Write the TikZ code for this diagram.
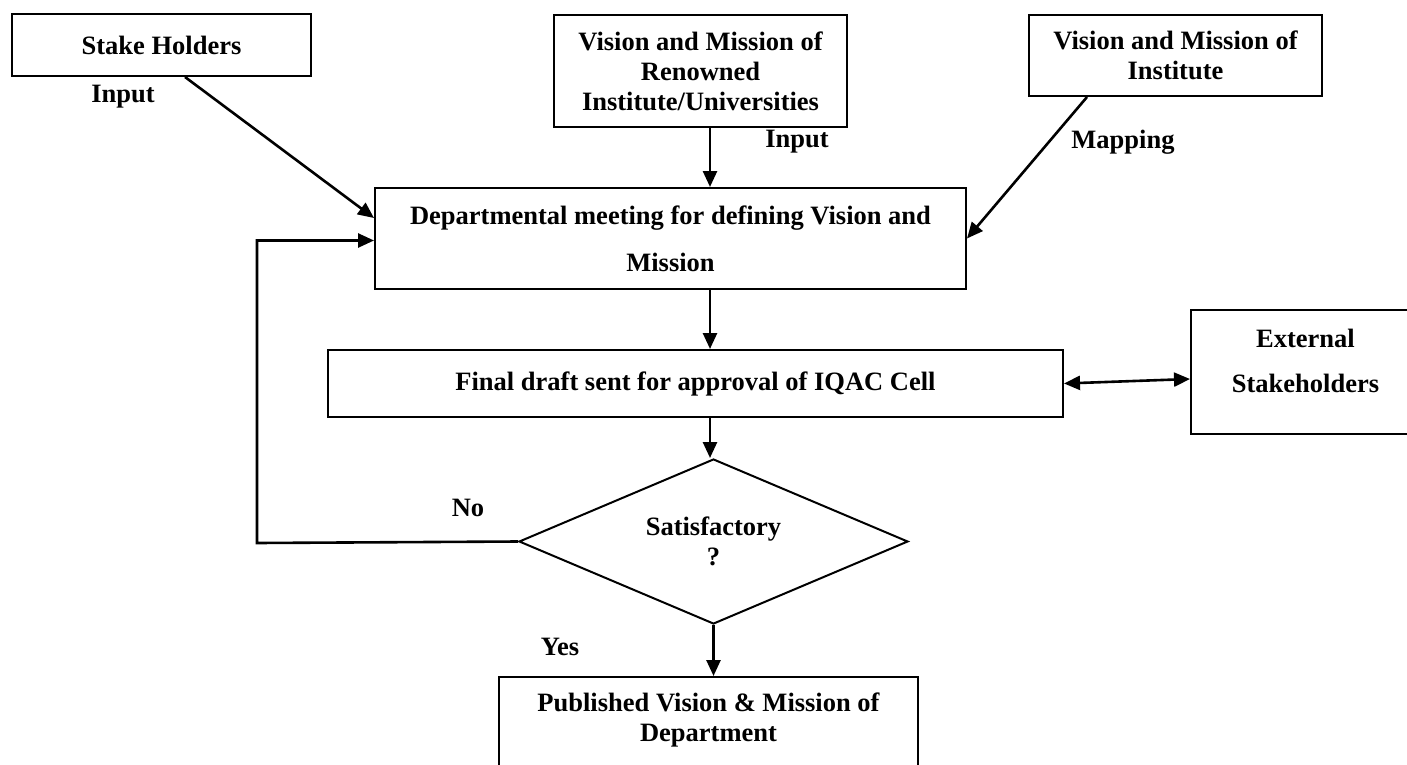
\documentclass[tikz,border=0pt]{standalone}
\usepackage{fontspec}
\setmainfont{Liberation Serif}
\usetikzlibrary{arrows.meta,shapes.geometric}
\begin{document}
\begin{tikzpicture}[x=0.5pt,y=-0.5pt,
  every node/.style={font=\bfseries\fontsize{13.25}{15}\selectfont},
  box/.style={draw, line width=1pt, align=center, inner sep=0pt},
  decide/.style={draw, diamond, aspect=2.36, line width=1pt, align=center, inner sep=0pt,
                 minimum width=194.5pt, minimum height=82.5pt},
  txt/.style={align=center, inner sep=0pt},
  conn/.style={line width=1.3pt, -{Triangle[length=8pt,width=7pt]}},
  twoway/.style={line width=1.3pt, {Triangle[length=8pt,width=7pt]}-{Triangle[length=8pt,width=7pt]}}
]
\useasboundingbox (0,0) rectangle (1407,765);
\fill[white] (0,0) rectangle (1407,765);
\clip (0,0) rectangle (1407,765);

% sources
\node[box, minimum width=149.5pt, minimum height=31pt] (stake) at (161.5,45) {Stake Holders};
\node[box, minimum width=146.5pt, minimum height=56pt] (renowned) at (700.5,71)
  {Vision and Mission of\\Renowned\\Institute/Universities};
\node[box, minimum width=146.5pt, minimum height=40.5pt] (inst) at (1175.5,55.5)
  {Vision and Mission of\\Institute};

% process
\node[box, minimum width=295.5pt, minimum height=50.5pt,
      font=\bfseries\fontsize{13.25}{23.5}\selectfont] (dept) at (670.5,238.5)
  {Departmental meeting for defining Vision and\\Mission};
\node[box, minimum width=367.5pt, minimum height=33.5pt] (final) at (695.5,383.5)
  {Final draft sent for approval of IQAC Cell};

\node[box, minimum width=114.5pt, minimum height=62pt] (ext) at (1305.5,372) {};
\node[txt, font=\bfseries\fontsize{13.25}{22.5}\selectfont] (exttext) at (1305.5,360.5)
  {External\\Stakeholders};

\node[decide] (sat) at (713.5,541.5) {Satisfactory\\?};

\node[box, minimum width=209.5pt, minimum height=61.5pt] (pub) at (708.5,738.5) {};
\node[txt] (pubtext) at (708.5,720) {Published Vision \& Mission of\\Department};

% connector labels
\node[txt] (lin1) at (123,97) {Input};
\node[txt] (lin2) at (797,142) {Input};
\node[txt] (lmap) at (1123,142) {Mapping};
\node[txt] (lno) at (468,508) {No};
\node[txt] (lyes) at (560,647) {Yes};

% connectors
\coordinate (col) at (710,0);
\coordinate (fb) at (257,543);
\draw[conn] ([xshift=11.75pt]stake.south) -- ([yshift=10.25pt]dept.west);
\draw[conn] (renowned.south -| col) -- (dept.north -| col);
\draw[conn] ([xshift=-44.25pt]inst.south) -- (dept.east);
\draw[conn] (dept.south -| col) -- (final.north -| col);
\draw[conn] (final.south -| col) -- (sat.north -| col);
\draw[twoway] (final.east) -- ([yshift=-3.5pt]ext.west);
\draw[conn] (sat.south) -- (sat.south |- pub.north);
\draw[conn] (sat.west) -- (fb) |- ([yshift=-1pt]dept.west);
\end{tikzpicture}
\end{document}
